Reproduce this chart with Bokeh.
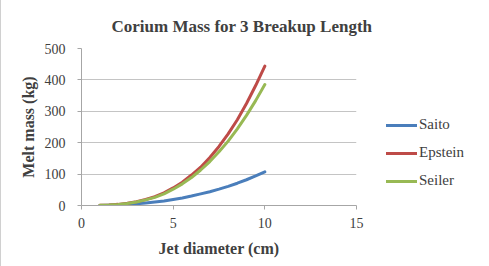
from bokeh.plotting import figure
from bokeh.models import Legend, LegendItem, Range1d, FixedTicker, Title
from bokeh.embed import file_html
from bokeh.resources import INLINE

# Jet diameter (cm) and the melt mass (kg) for each breakup-length correlation
diameter = [1, 1.5, 2, 2.5, 3, 3.5, 4, 4.5, 5, 5.5, 6, 6.5, 7, 7.5, 8, 8.5, 9, 9.5, 10]
saito = [0.3, 1.0, 1.9, 3.4, 5.3, 8, 11, 14.5, 19, 24, 30, 37, 44, 52, 61, 71, 82, 94, 107]
epstein = [0.5, 1.5, 3.6, 7, 12, 19, 28, 40, 56, 74, 97, 122, 153, 188, 228, 273, 325, 382, 444]
seiler = [0.5, 1.4, 3.4, 6.5, 11, 18, 26, 37, 52, 69, 89, 113, 140, 171, 205, 244, 287, 334, 385]

x_ticks = [0, 5, 10, 15]
y_ticks = [0, 100, 200, 300, 400, 500]

SERIF = "Liberation Serif"
TEXT = "#404040"
AXIS = "#a6a6a6"

p = figure(
    frame_width=275, frame_height=157,
    min_border_left=80, min_border_right=127, min_border_top=48, min_border_bottom=61,
    x_range=Range1d(0, 15), y_range=Range1d(0, 500),
    output_backend="svg", toolbar_location=None,
)
p.styles = {"border-left": "1px solid #d0d0d0", "border-right": "1px solid #d0d0d0"}
p.outline_line_color = None
p.background_fill_color = "white"
p.border_fill_color = "white"

p.xgrid.grid_line_color = None
p.ygrid.grid_line_color = "#c4c4c4"
p.ygrid.grid_line_width = 1

p.xaxis.ticker = FixedTicker(ticks=x_ticks)
p.yaxis.ticker = FixedTicker(ticks=y_ticks)
for ax in (p.xaxis[0], p.yaxis[0]):
    ax.axis_line_color = AXIS
    ax.major_tick_line_color = AXIS
    ax.major_tick_out = 4
    ax.major_tick_in = 0
    ax.minor_tick_line_color = None
    ax.major_label_text_font = SERIF
    ax.major_label_text_font_size = "14px"
    ax.major_label_text_color = TEXT
    ax.axis_label_text_font = SERIF
    ax.axis_label_text_font_size = "16px"
    ax.axis_label_text_font_style = "bold"
    ax.axis_label_text_color = TEXT

p.xaxis.axis_label = "Jet diameter (cm)"
p.yaxis.axis_label = "Melt mass (kg)"
p.xaxis.major_label_standoff = 8
p.yaxis.major_label_standoff = 12
p.xaxis.axis_label_standoff = 9
p.yaxis.axis_label_standoff = 5

line_style = dict(line_width=3, line_join="round", line_cap="round")
r_saito = p.line(diameter, saito, line_color="#4a7ebb", **line_style)
r_epstein = p.line(diameter, epstein, line_color="#be4b48", **line_style)
r_seiler = p.line(diameter, seiler, line_color="#98b954", **line_style)

legend = Legend(
    items=[
        LegendItem(label="Saito", renderers=[r_saito]),
        LegendItem(label="Epstein", renderers=[r_epstein]),
        LegendItem(label="Seiler", renderers=[r_seiler]),
    ],
    location=(30, 16),
    background_fill_alpha=0,
    border_line_color=None,
    label_text_font=SERIF,
    label_text_font_size="15px",
    label_text_color=TEXT,
    glyph_width=31,
    glyph_height=14,
    label_standoff=2,
    spacing=11,
    padding=0,
    margin=0,
)
p.add_layout(legend, "right")

title = Title(
    text="Corium Mass for 3 Breakup Length",
    align="left", offset=30, standoff=25,
    text_font=SERIF, text_font_size="17px", text_font_style="bold",
    text_color=TEXT,
)
p.add_layout(title, "above")

open("out.html", "w").write(file_html(p, INLINE))
